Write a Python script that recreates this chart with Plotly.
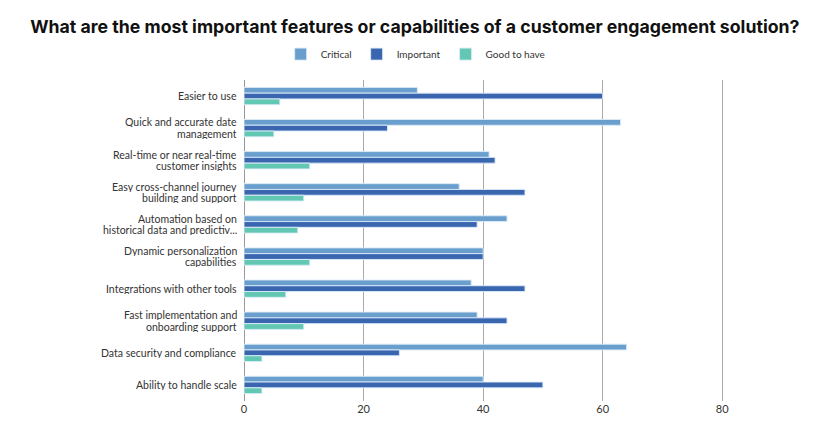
import plotly.graph_objects as go

categories = [
    "Easier to use",
    "Quick and accurate date<br>management",
    "Real-time or near real-time<br>customer insights",
    "Easy cross-channel journey<br>building and support",
    "Automation based on<br>historical data and predictiv...",
    "Dynamic personalization<br>capabilities",
    "Integrations with other tools",
    "Fast implementation and<br>onboarding support",
    "Data security and compliance",
    "Ability to handle scale",
]
critical = [29, 63, 41, 36, 44, 40, 38, 39, 64, 40]
important = [60, 24, 42, 47, 39, 40, 47, 44, 26, 50]
good_to_have = [6, 5, 11, 10, 9, 11, 7, 10, 3, 3]
x_ticks = [0, 20, 40, 60, 80]

series = [
    ("Critical", critical, "#6a9fcd"),
    ("Important", important, "#3a66b0"),
    ("Good to have", good_to_have, "#63c8b3"),
]

FONT = "Lato, Inter, sans-serif"

fig = go.Figure()
for name, vals, color in series:
    fig.add_trace(go.Bar(
        y=categories, x=vals, name=name, orientation="h",
        marker=dict(color=color, line=dict(color="rgba(220,235,250,0.9)", width=1)),
    ))

# category labels as annotations (tight line spacing, like the reference)
LINE = 11.5
for cat in categories:
    lines = cat.split("<br>")
    n = len(lines)
    for i, ln in enumerate(lines):
        fig.add_annotation(
            x=0, xref="paper", y=cat, yref="y",
            text=ln, showarrow=False, xanchor="right", yanchor="middle",
            xshift=-6, yshift=(n - 1) * LINE / 2 - i * LINE,
            height=10, borderpad=0,
            font=dict(family=FONT, size=10.5, color="#333333"),
        )

fig.update_layout(
    width=832, height=435,
    paper_bgcolor="white", plot_bgcolor="white",
    margin=dict(l=236, r=58, t=72, b=42),
    title=dict(
        text="<b>What are the most important features or capabilities of a customer engagement solution?</b>",
        x=0.489, xanchor="center", xref="container",
        y=0.956, yanchor="middle", yref="container",
        font=dict(family="Inter, Open Sans, sans-serif", size=17.7, color="#111111"),
    ),
    barmode="group", bargap=0.46, bargroupgap=0.0,
    legend=dict(
        orientation="h", x=0.49, xanchor="center", xref="container",
        y=0.894, yanchor="middle", yref="container",
        font=dict(family=FONT, size=10, color="#333333"),
        traceorder="normal", itemwidth=30,
    ),
    font=dict(family=FONT, size=11, color="#333333"),
    showlegend=True,
)
fig.update_xaxes(
    range=[0, 90], tickvals=x_ticks, showgrid=True, gridcolor="#aaaaaa", gridwidth=1,
    zeroline=True, zerolinecolor="#999999", zerolinewidth=1,
    tickfont=dict(family=FONT, size=11, color="#333333"), ticks="", showline=False,
    automargin=False,
)
fig.update_yaxes(
    autorange="reversed", showgrid=False, ticks="", showticklabels=False,
    automargin=False,
)

fig.write_html("out.html")
